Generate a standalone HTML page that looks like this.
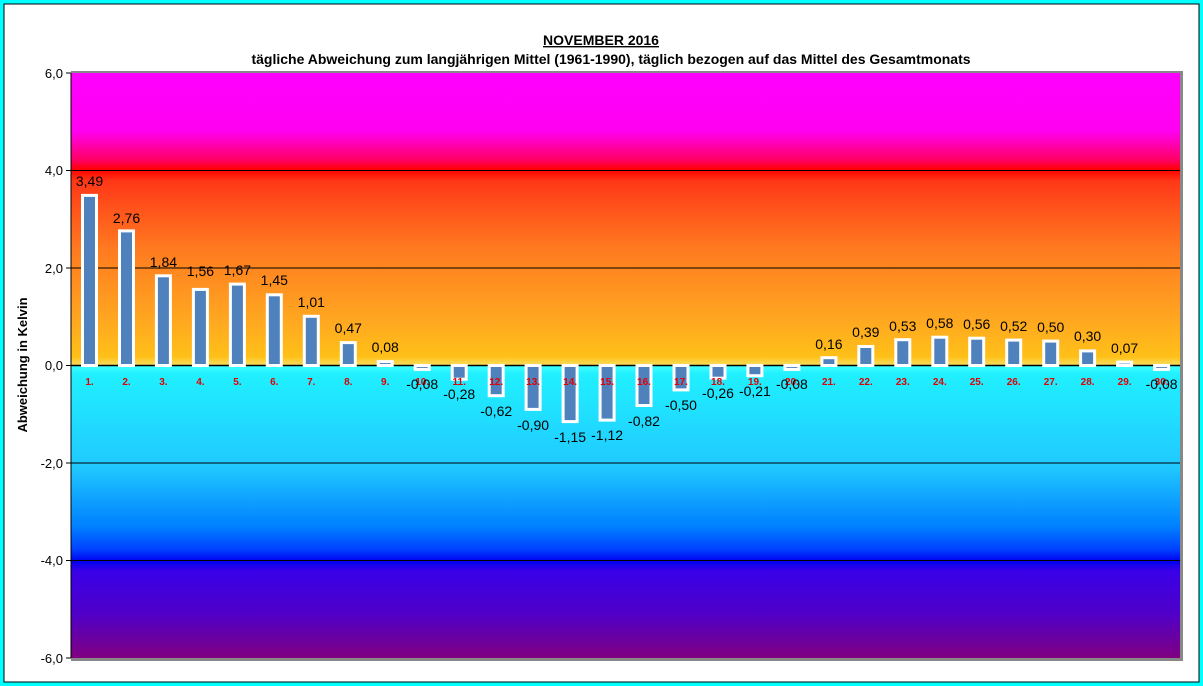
<!DOCTYPE html>
<html><head><meta charset="utf-8"><style>
body{margin:0;background:#00ffff;}
svg{display:block;font-family:"Liberation Sans",Arial,sans-serif;}
</style></head><body>
<svg width="1203" height="686" viewBox="0 0 1203 686">
<defs>
<linearGradient id="gp" x1="0" y1="73" x2="0" y2="365.5" gradientUnits="userSpaceOnUse">
<stop offset="0" stop-color="#ff00ff"/>
<stop offset="0.2" stop-color="#ff00f0"/>
<stop offset="0.3" stop-color="#ff0060"/>
<stop offset="0.33" stop-color="#ff0000"/>
<stop offset="0.37" stop-color="#ff3818"/>
<stop offset="0.6" stop-color="#ff7a20"/>
<stop offset="0.85" stop-color="#ffa820"/>
<stop offset="0.97" stop-color="#ffc018"/>
<stop offset="1" stop-color="#f8e060"/>
</linearGradient>
<linearGradient id="gn" x1="0" y1="365.5" x2="0" y2="658" gradientUnits="userSpaceOnUse">
<stop offset="0" stop-color="#40ffff"/>
<stop offset="0.03" stop-color="#20f0ff"/>
<stop offset="0.35" stop-color="#20c8ff"/>
<stop offset="0.55" stop-color="#0080ff"/>
<stop offset="0.63" stop-color="#0040ff"/>
<stop offset="0.67" stop-color="#0000f0"/>
<stop offset="0.7" stop-color="#3800e8"/>
<stop offset="0.85" stop-color="#5000c8"/>
<stop offset="1" stop-color="#800080"/>
</linearGradient>
</defs>
<rect x="4" y="4" width="1195" height="678" fill="#fff" stroke="#000" stroke-width="1"/>
<text x="601" y="45" text-anchor="middle" font-size="14" font-weight="bold" text-decoration="underline">NOVEMBER 2016</text>
<text x="611" y="64" text-anchor="middle" font-size="14" font-weight="bold">tägliche Abweichung zum langjährigen Mittel (1961-1990), täglich bezogen auf das Mittel des Gesamtmonats</text>
<rect x="71" y="71" width="1112" height="590" fill="#888"/>
<rect x="71" y="73" width="1109" height="292.5" fill="url(#gp)"/>
<rect x="71" y="365.5" width="1109" height="292.5" fill="url(#gn)"/>
<g stroke="#000" stroke-width="1">
<line x1="71" y1="170.5" x2="1180" y2="170.5"/>
<line x1="71" y1="268" x2="1180" y2="268"/>
<line x1="71" y1="463" x2="1180" y2="463"/>
<line x1="71" y1="560.5" x2="1180" y2="560.5"/>
<line x1="71" y1="365.5" x2="1180" y2="365.5" stroke-width="1.5"/>
<line x1="71" y1="73" x2="71" y2="658"/>
<line x1="66" y1="73" x2="71" y2="73"/><line x1="66" y1="170.5" x2="71" y2="170.5"/><line x1="66" y1="268" x2="71" y2="268"/><line x1="66" y1="365.5" x2="71" y2="365.5"/><line x1="66" y1="463" x2="71" y2="463"/><line x1="66" y1="560.5" x2="71" y2="560.5"/><line x1="66" y1="658" x2="71" y2="658"/>
</g>
<g font-size="13" text-anchor="end">
<text x="63" y="78">6,0</text><text x="63" y="175">4,0</text><text x="63" y="273">2,0</text><text x="63" y="370">0,0</text><text x="63" y="468">-2,0</text><text x="63" y="565">-4,0</text><text x="63" y="663">-6,0</text>
</g>
<text transform="translate(27,365) rotate(-90)" text-anchor="middle" font-size="13" font-weight="bold">Abweichung in Kelvin</text>
<g fill="#4f81bd" stroke="#fff" stroke-width="3">
<rect x="82.5" y="195.4" width="14" height="170.1"/>
<rect x="119.5" y="230.9" width="14" height="134.6"/>
<rect x="156.4" y="275.8" width="14" height="89.7"/>
<rect x="193.4" y="289.4" width="14" height="76.1"/>
<rect x="230.4" y="284.1" width="14" height="81.4"/>
<rect x="267.3" y="294.8" width="14" height="70.7"/>
<rect x="304.3" y="316.3" width="14" height="49.2"/>
<rect x="341.3" y="342.6" width="14" height="22.9"/>
<rect x="378.2" y="361.6" width="14" height="3.9"/>
<rect x="415.2" y="365.5" width="14" height="3.9"/>
<rect x="452.2" y="365.5" width="14" height="13.7"/>
<rect x="489.2" y="365.5" width="14" height="30.2"/>
<rect x="526.1" y="365.5" width="14" height="43.9"/>
<rect x="563.1" y="365.5" width="14" height="56.1"/>
<rect x="600.1" y="365.5" width="14" height="54.6"/>
<rect x="637" y="365.5" width="14" height="40"/>
<rect x="674" y="365.5" width="14" height="24.4"/>
<rect x="711" y="365.5" width="14" height="12.7"/>
<rect x="747.9" y="365.5" width="14" height="10.2"/>
<rect x="784.9" y="365.5" width="14" height="3.9"/>
<rect x="821.9" y="357.7" width="14" height="7.8"/>
<rect x="858.8" y="346.5" width="14" height="19"/>
<rect x="895.8" y="339.7" width="14" height="25.8"/>
<rect x="932.8" y="337.2" width="14" height="28.3"/>
<rect x="969.7" y="338.2" width="14" height="27.3"/>
<rect x="1006.7" y="340.1" width="14" height="25.4"/>
<rect x="1043.7" y="341.1" width="14" height="24.4"/>
<rect x="1080.6" y="350.9" width="14" height="14.6"/>
<rect x="1117.6" y="362.1" width="14" height="3.4"/>
<rect x="1154.6" y="365.5" width="14" height="3.9"/>
</g>
<g font-size="10" font-weight="bold" fill="#e00000" text-anchor="middle">
<text x="89.5" y="385">1.</text><text x="126.5" y="385">2.</text><text x="163.4" y="385">3.</text><text x="200.4" y="385">4.</text><text x="237.4" y="385">5.</text><text x="274.3" y="385">6.</text><text x="311.3" y="385">7.</text><text x="348.3" y="385">8.</text><text x="385.2" y="385">9.</text><text x="422.2" y="385">10.</text><text x="459.2" y="385">11.</text><text x="496.2" y="385">12.</text><text x="533.1" y="385">13.</text><text x="570.1" y="385">14.</text><text x="607.1" y="385">15.</text><text x="644" y="385">16.</text><text x="681" y="385">17.</text><text x="718" y="385">18.</text><text x="754.9" y="385">19.</text><text x="791.9" y="385">20.</text><text x="828.9" y="385">21.</text><text x="865.8" y="385">22.</text><text x="902.8" y="385">23.</text><text x="939.8" y="385">24.</text><text x="976.7" y="385">25.</text><text x="1013.7" y="385">26.</text><text x="1050.7" y="385">27.</text><text x="1087.6" y="385">28.</text><text x="1124.6" y="385">29.</text><text x="1161.6" y="385">30.</text>
</g>
<g font-size="14" text-anchor="middle" fill="#000">
<text x="89.5" y="186">3,49</text>
<text x="126.5" y="223">2,76</text>
<text x="163.4" y="267">1,84</text>
<text x="200.4" y="276">1,56</text>
<text x="237.4" y="275">1,67</text>
<text x="274.3" y="285">1,45</text>
<text x="311.3" y="307">1,01</text>
<text x="348.3" y="333">0,47</text>
<text x="385.2" y="352">0,08</text>
<text x="422.2" y="389">-0,08</text>
<text x="459.2" y="399">-0,28</text>
<text x="496.2" y="416">-0,62</text>
<text x="533.1" y="430">-0,90</text>
<text x="570.1" y="442">-1,15</text>
<text x="607.1" y="440">-1,12</text>
<text x="644" y="426">-0,82</text>
<text x="681" y="410">-0,50</text>
<text x="718" y="398">-0,26</text>
<text x="754.9" y="396">-0,21</text>
<text x="791.9" y="389">-0,08</text>
<text x="828.9" y="349">0,16</text>
<text x="865.8" y="337">0,39</text>
<text x="902.8" y="331">0,53</text>
<text x="939.8" y="328">0,58</text>
<text x="976.7" y="329">0,56</text>
<text x="1013.7" y="331">0,52</text>
<text x="1050.7" y="332">0,50</text>
<text x="1087.6" y="341">0,30</text>
<text x="1124.6" y="353">0,07</text>
<text x="1161.6" y="389">-0,08</text>
</g>
</svg>
</body></html>
